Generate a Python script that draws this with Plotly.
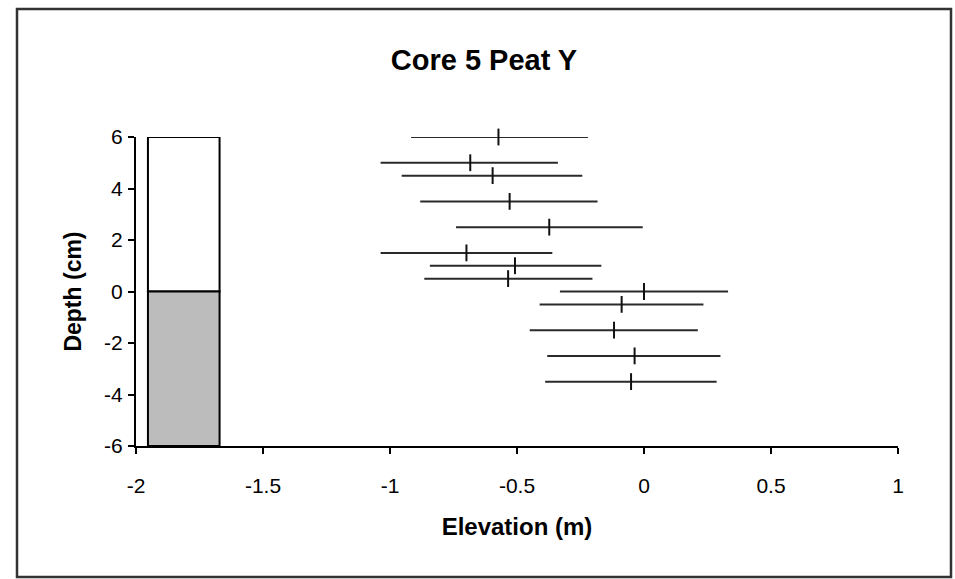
import plotly.graph_objects as go

# Elevation estimates (m) with error ranges, by depth (cm)
depth = [6.0, 5.0, 4.5, 3.5, 2.5, 1.5, 1.0, 0.5, 0.0, -0.5, -1.5, -2.5, -3.5]
elev = [-0.573, -0.684, -0.596, -0.529, -0.373, -0.699, -0.508, -0.535,
        0.0, -0.088, -0.118, -0.037, -0.051]
elev_low = [-0.917, -1.037, -0.954, -0.881, -0.740, -1.037, -0.843, -0.865,
            -0.331, -0.411, -0.450, -0.381, -0.389]
elev_high = [-0.221, -0.339, -0.243, -0.183, -0.005, -0.361, -0.168, -0.203,
             0.331, 0.234, 0.212, 0.301, 0.286]

# Core column: upper (white) and lower (grey peat) segments
core_x = -1.812
core_width = 0.282
core_top = 6
core_boundary = 0
core_bottom = -6

x_ticks = [-2, -1.5, -1, -0.5, 0, 0.5, 1]
x_ticklabels = ["-2", "-1.5", "-1", "-0.5", "0", "0.5", "1"]
y_ticks = [-6, -4, -2, 0, 2, 4, 6]
y_ticklabels = ["-6", "-4", "-2", "0", "2", "4", "6"]

err_plus = [h - e for h, e in zip(elev_high, elev)]
err_minus = [e - l for e, l in zip(elev, elev_low)]

# plot area in pixels (for paper-coordinate border)
L, R, T, B = 136, 898, 137, 446
W_PA, H_PA = R - L, B - T

fig = go.Figure()

fig.add_trace(go.Bar(
    x=[core_x], y=[core_top - core_boundary], base=[core_boundary],
    width=core_width, marker=dict(color="white", line=dict(color="black", width=2)),
    cliponaxis=False, showlegend=False, hoverinfo="skip"))
fig.add_trace(go.Bar(
    x=[core_x], y=[core_boundary - core_bottom], base=[core_bottom],
    width=core_width, marker=dict(color="#bcbcbc", line=dict(color="black", width=2)),
    cliponaxis=False, showlegend=False, hoverinfo="skip"))

fig.add_trace(go.Scatter(
    x=elev, y=depth, mode="markers",
    marker=dict(symbol="line-ns", size=12, line=dict(color="#111111", width=2)),
    error_x=dict(type="data", symmetric=False, array=err_plus, arrayminus=err_minus,
                 color="#2a2a2a", thickness=2, width=0),
    cliponaxis=False, showlegend=False))

fig.update_layout(
    width=955, height=579,
    margin=dict(l=L, r=955 - R, t=T, b=579 - B),
    paper_bgcolor="white", plot_bgcolor="white",
    barmode="overlay",
    font=dict(family="Liberation Sans, Arial, sans-serif", color="black"),
    title=dict(text="<b>Core 5 Peat Y</b>", x=484/955, xanchor="center",
               y=1 - 60/579, yanchor="middle", font=dict(size=29, color="black")),
    xaxis=dict(range=[-2, 1], tickvals=x_ticks, ticktext=x_ticklabels,
               showgrid=False, zeroline=False, showline=True, linecolor="black",
               linewidth=2, ticks="outside", ticklen=6, tickwidth=2, tickcolor="black",
               tickfont=dict(size=21), ticklabelstandoff=14,
               title=dict(text="<b>Elevation (m)</b>", font=dict(size=24), standoff=22)),
    yaxis=dict(range=[-6, 6], tickvals=y_ticks, ticktext=y_ticklabels,
               showgrid=False, zeroline=False, showline=True, linecolor="black",
               linewidth=2, ticks="outside", ticklen=6, tickwidth=2, tickcolor="black",
               tickfont=dict(size=21), ticklabelstandoff=1,
               title=dict(text="<b>Depth (cm)</b>", font=dict(size=23), standoff=16)),
    shapes=[dict(type="rect", xref="paper", yref="paper",
                 x0=(17 - L) / W_PA, x1=(951 - L) / W_PA,
                 y0=(B - 577) / H_PA, y1=(B - 9) / H_PA,
                 line=dict(color="#333333", width=2.5))],
)

fig.write_html("out.html")
